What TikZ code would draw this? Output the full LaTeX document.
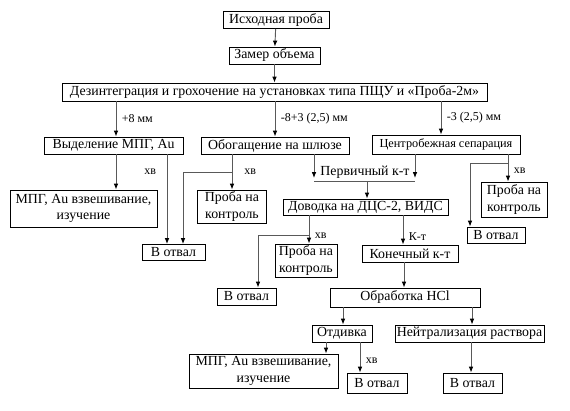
\documentclass[tikz,border=0pt]{standalone}
\usepackage{fontspec}
\setmainfont{Liberation Serif}
\usetikzlibrary{arrows.meta}

\begin{document}
\begin{tikzpicture}[x=0.75pt,y=-0.75pt,
  blk/.style 2 args={draw, line width=0.6pt, minimum width=#1*0.75pt, minimum height=#2*0.75pt,
    inner sep=1pt, align=center, font=\fontsize{10.4}{12.5}\selectfont},
  lbl/.style={font=\fontsize{9}{10}\selectfont, inner sep=1pt},
  arr/.style={draw=black!65, line width=0.7pt, -{Latex[length=4.5pt,width=3.5pt,black]}},
  ln/.style={draw=black!65, line width=0.7pt}]
\useasboundingbox (0,0) rectangle (570,410);
\node[blk={106}{17}] (isx) at (276,20) {Исходная проба};
\node[blk={91}{17}] (zamer) at (274.5,55.5) {Замер объема};
\node[blk={425}{18}] (dez) at (274.5,92) {Дезинтеграция и грохочение на установках типа ПЩУ и «Проба-2м»};
\node[blk={139}{17}] (vyd) at (113.5,145.5) {Выделение МПГ, Au};
\node[blk={148}{17}] (obog) at (275,145.5) {Обогащение на шлюзе};
\node[blk={148}{19}, font=\fontsize{9.2}{11}\selectfont] (centr) at (446,144.5) {Центробежная сепарация};
\node[blk={147}{37}] (mpga) at (83.5,208.5) {МПГ, Au взвешивание,\\изучение};
\node[blk={69}{33}] (probaa) at (232,206.5) {Проба на\\контроль};
\node[blk={63}{16}] (otvala) at (173.5,252.5) {В отвал};
\node[inner sep=1pt, font=\fontsize{10.4}{12}\selectfont] (perv) at (365,172) {Первичный к-т};
\node[blk={165}{16}] (dovod) at (365.5,207) {Доводка на ДЦС-2, ВИДС};
\node[blk={66}{35}] (probab) at (514,199.5) {Проба на\\контроль};
\node[blk={58}{16}] (otvalb) at (496,235) {В отвал};
\node[blk={62}{33}] (probac) at (306,260.5) {Проба на\\контроль};
\node[blk={96}{17}] (konech) at (410,253.5) {Конечный к-т};
\node[blk={59}{17}] (otvalc) at (246.5,296.5) {В отвал};
\node[blk={150}{19}] (obrab) at (405,297.5) {Обработка HCl};
\node[blk={60}{17}] (otdiv) at (342,333.5) {Отдивка};
\node[blk={149}{17}] (neutr) at (469.5,333.5) {Нейтрализация раствора};
\node[blk={149}{34}] (mpgb) at (263.5,371) {МПГ, Au взвешивание,\\изучение};
\node[blk={60}{20}] (otvald) at (377,383) {В отвал};
\node[blk={59}{20}] (otvale) at (472.5,383) {В отвал};
\coordinate (bar) at (367,181);
\coordinate (knA) at (232,172);
\coordinate (knB) at (508,163);
\coordinate (knC) at (309,235);
\draw[arr] (isx) -- (zamer);
\draw[arr] (zamer) -- (dez);
\draw[arr] (dez.south -| 116,0) -- (vyd.north -| 116,0) node[lbl, midway, right=3pt] {+8 мм};
\draw[arr] (dez.south -| 275,0) -- (obog.north -| 275,0) node[lbl, midway, right=3pt] {-8+3 (2,5) мм};
\draw[arr] (dez.south -| 441,0) -- (centr.north -| 441,0) node[lbl, midway, right=3pt] {-3 (2,5) мм};
\draw[arr] (vyd.south -| 116,0) -- (mpga.north -| 116,0) node[lbl, pos=0.5, right=20pt] {хв};
\draw[arr] (vyd.south -| 167,0) -- (otvala.north -| 167,0);
\draw[arr] (obog.south -| knA) -- (probaa.north -| knA) node[lbl, pos=0.5, right=8pt] {хв};
\draw[arr] (knA) -- (knA -| 183,0) -- (otvala.north -| 183,0);
\draw[arr] (obog.south -| 314,0) -- (314,178);
\draw[arr] (centr.south -| 415,0) -- (415,178);
\draw[ln] (bar -| 314,0) -- (bar -| 415,0);
\draw[arr] (bar) -- (dovod.north -| bar);
\draw[arr] (centr.south -| knB) -- (probab.north -| knB) node[lbl, pos=0.6, right=3pt] {хв};
\draw[arr] (knB) -- (knB -| 470,0) -- (otvalb.north -| 470,0);
\draw[arr] (dovod.south -| knC) -- (probac.north -| knC) node[lbl, pos=0.72, right=3pt] {хв};
\draw[arr] (knC) -- (knC -| 258,0) -- (otvalc.north -| 258,0);
\draw[arr] (dovod.south -| 403,0) -- (konech.north -| 403,0) node[lbl, pos=0.72, right=3pt] {К-т};
\draw[arr] (konech.south -| 404,0) -- (obrab.north -| 404,0);
\draw[arr] (obrab.south -| 343,0) -- (otdiv.north -| 343,0);
\draw[arr] (obrab.south -| 472,0) -- (neutr.north -| 472,0);
\draw[arr] (otdiv.south -| 326,0) -- (mpgb.north -| 326,0);
\draw[arr] (otdiv.south -| 360,0) -- (otvald.north -| 360,0) node[lbl, pos=0.6, right=3pt] {хв};
\draw[arr] (neutr.south -| 471,0) -- (otvale.north -| 471,0);
\end{tikzpicture}
\end{document}
